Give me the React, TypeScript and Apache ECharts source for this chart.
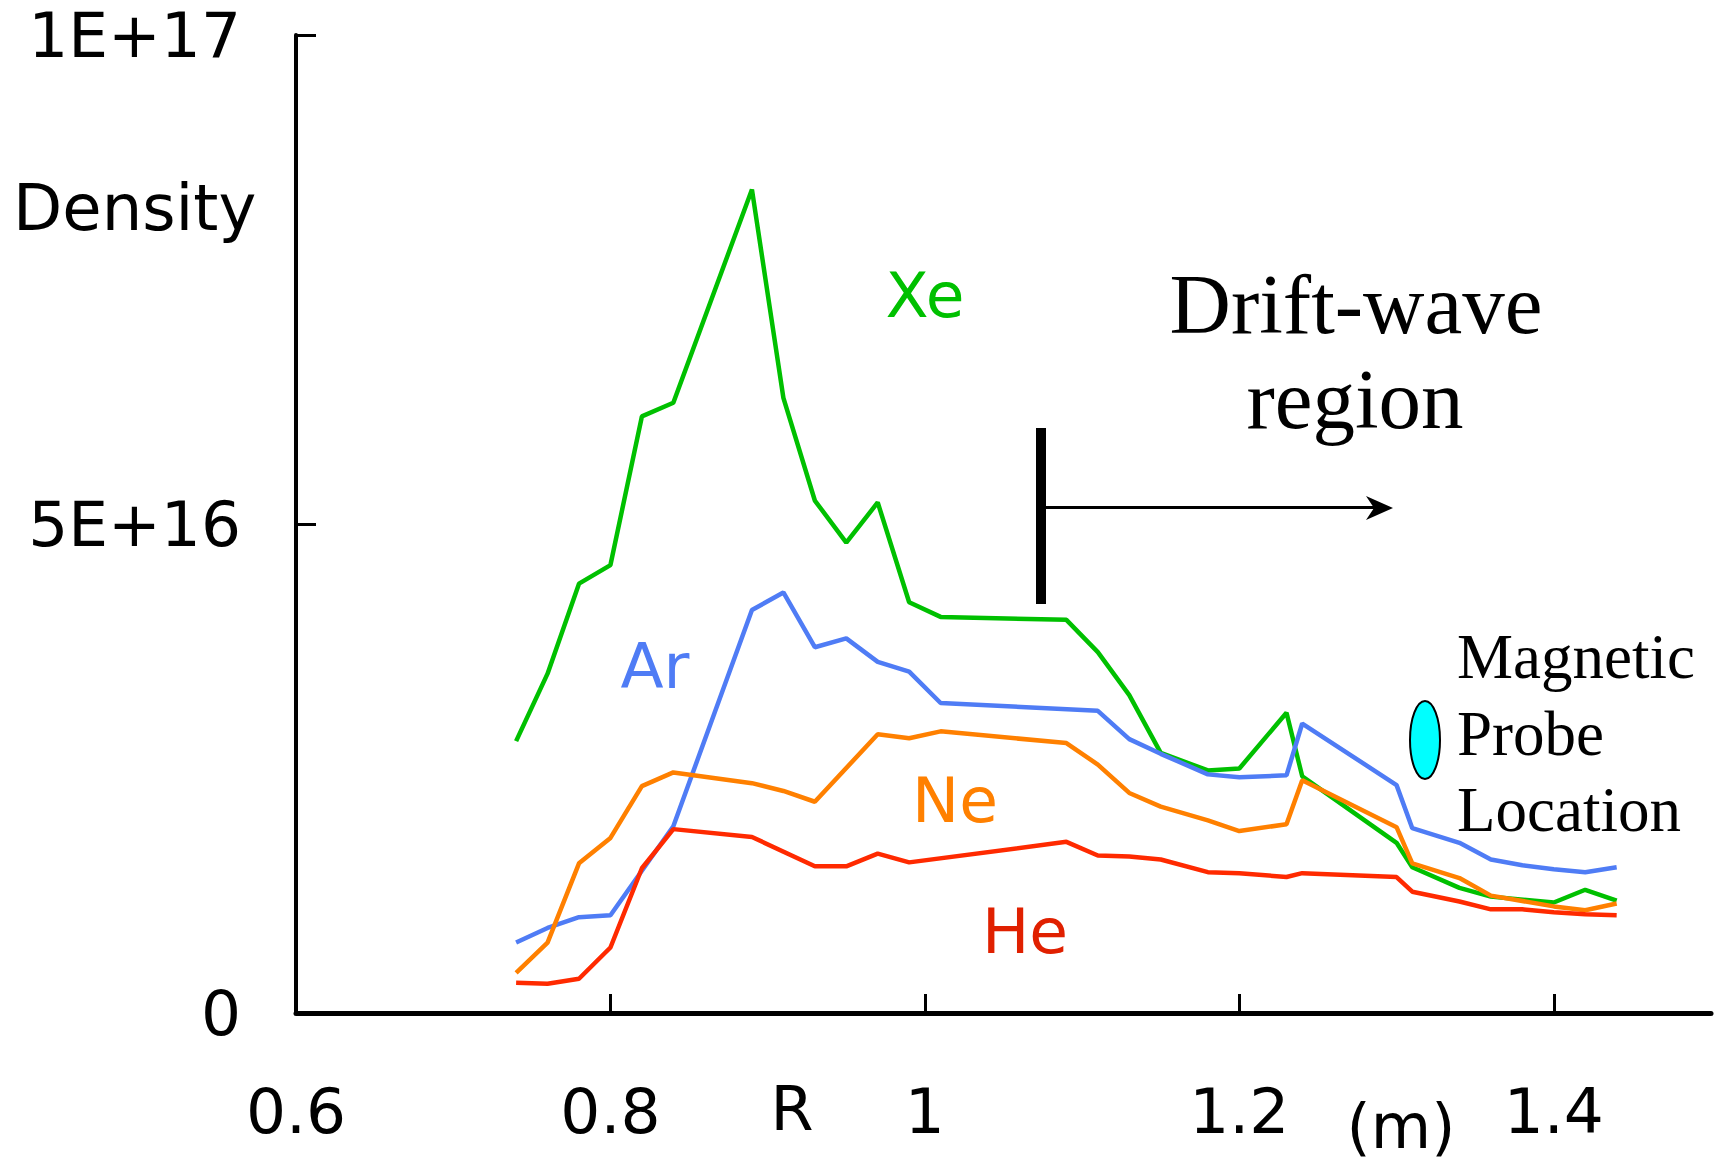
import React, { useEffect, useRef } from "react";
import * as echarts from "echarts";

// Radius (m)
const R = [0.74, 0.76, 0.78, 0.80, 0.82, 0.84, 0.89, 0.91, 0.93, 0.95, 0.97, 0.99, 1.01, 1.09, 1.11, 1.13, 1.15, 1.18, 1.20, 1.23, 1.24, 1.30, 1.31, 1.34, 1.36, 1.38, 1.40, 1.42, 1.44];

// Densities in units of 1E16 (null = no vertex there)
const xeDensity = [2.78, 3.47, 4.39, 4.58, 6.10, 6.24, 8.42, 6.29, 5.24, 4.81, 5.22, 4.20, 4.05, 4.02, 3.69, 3.25, 2.66, 2.48, 2.50, 3.07, 2.42, 1.74, 1.49, 1.28, 1.19, null, 1.13, 1.26, 1.15];
const arDensity = [0.72, 0.87, 0.98, 1.00, null, 1.91, 4.12, 4.30, 3.74, 3.83, 3.59, 3.49, 3.17, null, 3.09, 2.80, 2.65, 2.44, 2.41, 2.43, 2.96, 2.33, 1.89, 1.74, 1.57, 1.51, 1.47, 1.44, 1.49];
const neDensity = [0.41, 0.72, 1.53, 1.79, 2.32, 2.46, 2.35, 2.27, 2.16, null, 2.85, 2.81, 2.88, 2.76, 2.54, 2.25, 2.11, 1.97, 1.86, 1.93, 2.38, 1.90, 1.53, 1.38, 1.20, null, 1.09, 1.05, 1.12];
const heDensity = [0.31, 0.30, 0.35, 0.67, 1.48, 1.88, 1.80, null, 1.50, 1.50, 1.63, 1.54, null, 1.75, 1.61, 1.60, 1.57, 1.44, 1.43, 1.39, 1.43, 1.39, 1.24, 1.14, 1.06, 1.06, 1.03, 1.01, 1.00];

const xTicks = [0.6, 0.8, 1, 1.2, 1.4];
const yTicks = [0, 5e16, 1e17];
const yTickLabels = ["0", "5E+16", "1E+17"];

const seriesDefs = [
  { name: "Xe", values: xeDensity, color: "#00C000" },
  { name: "Ar", values: arDensity, color: "#4F7CF5" },
  { name: "Ne", values: neDensity, color: "#FF8000" },
  { name: "He", values: heDensity, color: "#FF2A00" },
];

const SANS = "DejaVu Sans";
const SERIF = "Liberation Serif";

export default function App() {
  const ref = useRef<HTMLDivElement>(null);
  useEffect(() => {
    if (!ref.current) return;
    const chart = echarts.init(ref.current, null, { renderer: "svg" });
    const series = seriesDefs.map((s) => ({
      name: s.name,
      type: "line",
      symbol: "none",
      lineStyle: { color: s.color, width: 4.5 },
      itemStyle: { color: s.color },
      data: R.map((x, i) => [x, s.values[i] == null ? null : (s.values[i] as number) * 1e16]).filter((p) => p[1] != null),
    }));
    const txt = (text: string, x: number, y: number, color: string, size: number, family: string, align = "center") => ({
      type: "text",
      x,
      y,
      style: { text, fill: color, fontSize: size, fontFamily: family, align, verticalAlign: "middle" },
    });
    chart.setOption({
      animation: false,
      backgroundColor: "#fff",
      grid: { left: 296, right: 7, top: 35, bottom: 153, containLabel: false, outerBoundsMode: "none" },
      xAxis: {
        type: "value",
        min: 0.6,
        max: 1.5,
        interval: 0.2,
        axisLine: { show: true, onZero: false, lineStyle: { color: "#000", width: 5 } },
        axisTick: { show: true, inside: true, length: 19, lineStyle: { color: "#000", width: 3 }, customValues: xTicks },
        axisLabel: { color: "#000", fontSize: 63, fontFamily: SANS, margin: 67, customValues: xTicks, formatter: (v: number) => String(+v.toFixed(2)) },
        splitLine: { show: false },
      },
      yAxis: {
        type: "value",
        min: 0,
        max: 1e17,
        interval: 5e16,
        axisLine: { show: true, lineStyle: { color: "#000", width: 4 } },
        axisTick: { show: true, inside: true, length: 20, lineStyle: { color: "#000", width: 3 }, customValues: yTicks },
        axisLabel: {
          color: "#000",
          fontSize: 63,
          fontFamily: SANS,
          margin: 55,
          customValues: yTicks,
          formatter: (v: number) => {
            const i = yTicks.findIndex((t) => Math.abs(t - v) < 1e10);
            return i >= 0 ? yTickLabels[i] : "";
          },
        },
        splitLine: { show: false },
      },
      series,
      graphic: [
        txt("Density", 13, 208, "#000", 64, SANS, "left"),
        txt("R", 792, 1108, "#000", 62, SANS),
        txt("(m)", 1401, 1126, "#000", 62, SANS),
        txt("Xe", 925, 295, "#00C000", 63, SANS),
        txt("Ar", 655, 666, "#4F7CF5", 63, SANS),
        txt("Ne", 955, 800, "#FF8000", 63, SANS),
        txt("He", 1025, 931, "#E02000", 63, SANS),
        txt("Drift-wave", 1356, 304, "#000", 85, SERIF),
        txt("region", 1355, 399, "#000", 85, SERIF),
        txt("Magnetic", 1457, 657, "#000", 63, SERIF, "left"),
        txt("Probe", 1457, 734, "#000", 63, SERIF, "left"),
        txt("Location", 1457, 810, "#000", 63, SERIF, "left"),
        { type: "rect", shape: { x: 1036, y: 428, width: 10, height: 176 }, style: { fill: "#000" } },
        { type: "line", shape: { x1: 1046, y1: 507.5, x2: 1378, y2: 507.5 }, style: { stroke: "#000", lineWidth: 3 } },
        { type: "polygon", shape: { points: [[1393, 508], [1366, 496], [1374, 508], [1366, 520]] }, style: { fill: "#000" } },
        { type: "ellipse", shape: { cx: 1425, cy: 740, rx: 15, ry: 39 }, style: { fill: "#00FFFF", stroke: "#000", lineWidth: 2 } },
      ],
    });
    return () => chart.dispose();
  }, []);
  return <div ref={ref} style={{ position: "absolute", left: 0, top: 0, width: 1718, height: 1166 }} />;
}
